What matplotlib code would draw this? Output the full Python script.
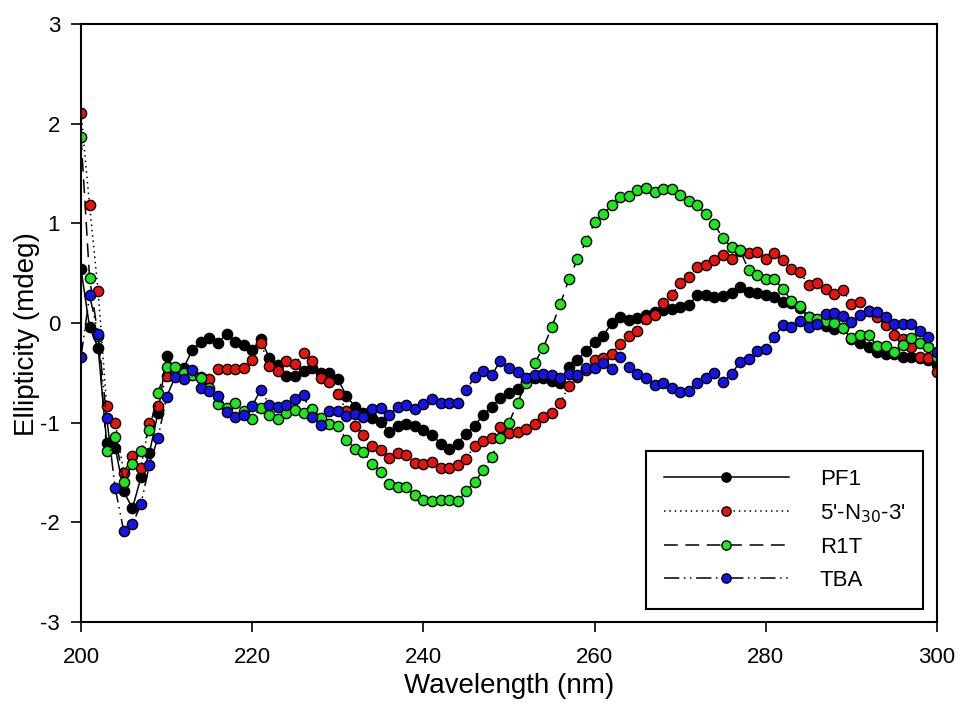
import numpy as np
import matplotlib
matplotlib.use("Agg")
import matplotlib.pyplot as plt

plt.rcParams['font.family'] = ['Liberation Sans', 'DejaVu Sans']
plt.rcParams['axes.unicode_minus'] = False

wavelength = list(range(200, 301))

pf1 = [0.54, -0.04, -0.25, -1.20, -1.25, -1.69, -1.86, -1.55, -1.30, -0.90,
       -0.33, -0.47, -0.45, -0.27, -0.19, -0.15, -0.20, -0.11, -0.19, -0.22,
       -0.27, -0.16, -0.35, -0.42, -0.53, -0.53, -0.48, -0.45, -0.50, -0.50,
       -0.56, -0.73, -0.84, -0.90, -0.95, -0.99, -1.09, -1.03, -1.01, -1.03,
       -1.07, -1.12, -1.21, -1.26, -1.21, -1.11, -1.03, -0.92, -0.84, -0.75,
       -0.70, -0.66, -0.59, -0.55, -0.55, -0.58, -0.60, -0.44, -0.37, -0.28,
       -0.19, -0.13, 0.00, 0.06, 0.03, 0.05, 0.08, 0.11, 0.13, 0.14,
       0.16, 0.18, 0.28, 0.28, 0.26, 0.27, 0.30, 0.36, 0.31, 0.30,
       0.28, 0.26, 0.21, 0.20, 0.15, 0.06, 0.00, -0.03, -0.06, -0.05,
       -0.16, -0.20, -0.24, -0.29, -0.31, -0.31, -0.34, -0.34, -0.35, -0.37,
       -0.42]

n30 = [2.11, 1.18, 0.32, -0.83, -1.00, -1.50, -1.33, -1.45, -1.00, -0.83,
       -0.53, -0.50, -0.52, -0.51, -0.54, -0.56, -0.46, -0.46, -0.46, -0.45,
       -0.37, -0.20, -0.43, -0.48, -0.38, -0.41, -0.30, -0.38, -0.55, -0.59,
       -0.71, -0.88, -1.03, -1.12, -1.23, -1.27, -1.35, -1.30, -1.32, -1.40,
       -1.41, -1.39, -1.45, -1.45, -1.42, -1.36, -1.23, -1.18, -1.15, -1.04,
       -1.10, -1.09, -1.06, -1.01, -0.94, -0.90, -0.80, -0.63, -0.54, -0.47,
       -0.37, -0.35, -0.31, -0.21, -0.13, -0.08, 0.04, 0.08, 0.20, 0.28,
       0.40, 0.46, 0.56, 0.58, 0.63, 0.68, 0.64, 0.72, 0.70, 0.71,
       0.64, 0.70, 0.63, 0.54, 0.51, 0.38, 0.40, 0.34, 0.29, 0.33,
       0.19, 0.21, 0.12, 0.06, -0.02, -0.12, -0.16, -0.24, -0.34, -0.35,
       -0.49]

r1t = [1.87, 0.45, -0.13, -1.28, -1.14, -1.60, -1.41, -1.28, -1.07, -0.70,
       -0.44, -0.44, -0.50, -0.52, -0.55, -0.65, -0.81, -0.85, -0.80, -0.88,
       -0.96, -0.85, -0.92, -0.96, -0.90, -0.87, -0.90, -0.86, -0.95, -1.01,
       -1.03, -1.17, -1.26, -1.29, -1.41, -1.49, -1.62, -1.65, -1.65, -1.73,
       -1.78, -1.79, -1.78, -1.78, -1.79, -1.69, -1.60, -1.47, -1.34, -1.15,
       -1.00, -0.80, -0.60, -0.40, -0.25, -0.04, 0.19, 0.44, 0.64, 0.82,
       1.01, 1.09, 1.18, 1.26, 1.27, 1.33, 1.35, 1.31, 1.34, 1.34,
       1.28, 1.22, 1.18, 1.09, 0.99, 0.85, 0.76, 0.73, 0.53, 0.48,
       0.44, 0.44, 0.34, 0.22, 0.17, 0.06, 0.04, 0.02, 0.00, -0.05,
       -0.15, -0.12, -0.12, -0.23, -0.23, -0.29, -0.22, -0.15, -0.20, -0.24,
       -0.34]

tba = [-0.34, 0.28, -0.11, -0.95, -1.66, -2.09, -2.02, -1.82, -1.42, -1.15,
       -0.74, -0.54, -0.56, -0.47, -0.65, -0.68, -0.73, -0.89, -0.94, -0.92,
       -0.83, -0.67, -0.82, -0.84, -0.82, -0.76, -0.72, -0.94, -1.02, -0.88,
       -0.88, -0.93, -0.91, -0.94, -0.86, -0.85, -0.92, -0.84, -0.82, -0.86,
       -0.81, -0.76, -0.80, -0.80, -0.80, -0.67, -0.54, -0.48, -0.52, -0.38,
       -0.45, -0.49, -0.55, -0.52, -0.51, -0.52, -0.55, -0.51, -0.52, -0.45,
       -0.45, -0.40, -0.46, -0.34, -0.44, -0.51, -0.55, -0.62, -0.60, -0.65,
       -0.69, -0.68, -0.60, -0.55, -0.50, -0.59, -0.51, -0.39, -0.36, -0.28,
       -0.26, -0.14, -0.02, -0.04, 0.02, -0.04, -0.01, 0.09, 0.10, 0.07,
       0.01, 0.08, 0.12, 0.11, 0.06, -0.01, -0.01, -0.01, -0.08, -0.14,
       -0.29]

labels = ["PF1", "5'-N$_{30}$-3'", "R1T", "TBA"]
colors = ["#000000", "#e8140c", "#1ee61e", "#1414e6"]
styles = ["-", (0, (1, 2.5)), (0, (9, 5)), (0, (10, 3, 1, 3, 1, 3))]
series = [pf1, n30, r1t, tba]

fig = plt.figure(figsize=(9.63, 7.07), dpi=100)
ax = fig.add_axes([81/963, 1-622/707, (937-81)/963, (622-24)/707])

for ys, lab, c, ls in zip(series, labels, colors, styles):
    ax.plot(wavelength, ys, linestyle=ls, color="black", linewidth=1.1,
            marker="o", markersize=7.4, markerfacecolor=c,
            markeredgecolor="black", markeredgewidth=1.0, label=lab)

ax.set_xlim(200, 300)
ax.set_ylim(-3, 3)
ax.set_xticks([200, 220, 240, 260, 280, 300])
ax.set_yticks([-3, -2, -1, 0, 1, 2, 3])
ax.tick_params(direction="out", length=7, width=1.2, labelsize=16, pad=8)
ax.tick_params(axis="x", pad=11)
for s in ax.spines.values():
    s.set_linewidth(1.5)

ax.set_xlabel("Wavelength (nm)", fontsize=20)
ax.set_ylabel("Ellipticity (mdeg)", fontsize=20)
ax.xaxis.set_label_coords(0.5, (622-673)/598)
ax.yaxis.set_label_coords((40-81)/856, (622-334)/598)

leg = ax.legend(loc="lower right", bbox_to_anchor=(923/963, (707-609)/707),
                bbox_transform=fig.transFigure, borderaxespad=0,
                fontsize=16, handlelength=5.6, handletextpad=1.4,
                numpoints=1, markerscale=0.9, labelspacing=0.55,
                borderpad=0.8, fancybox=False, framealpha=1,
                edgecolor="black")
leg.get_frame().set_linewidth(1.5)

fig.savefig("out.png", dpi=100)
